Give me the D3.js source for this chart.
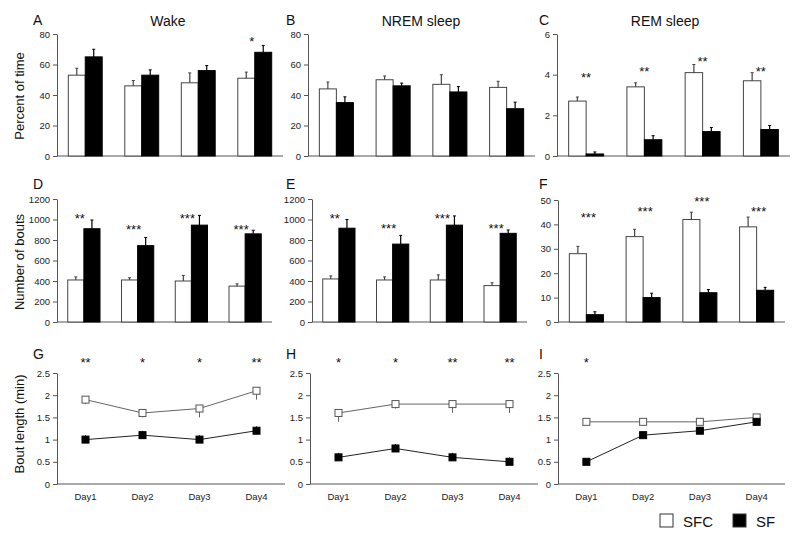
<!DOCTYPE html>
<html><head><meta charset="utf-8">
<script src="https://cdn.jsdelivr.net/npm/d3@7"></script>
<style>body{margin:0;background:#fff} svg{display:block;font-family:"Liberation Sans",Arial,sans-serif}</style>
</head><body><svg id="c" width="800" height="546"></svg>
<script>
const days = ["Day1", "Day2", "Day3", "Day4"];
const groups = ["SFC", "SF"];

// A: Wake, percent of time
const wakeSFC = [53, 46, 48, 51];
const wakeSFCErr = [4.5, 3.5, 6.5, 4];
const wakeSF = [65, 53, 56, 68];
const wakeSFErr = [5, 3.5, 3.3, 4.5];
const wakeSig = ["", "", "", "*"];
const wakeSigLevel = [0, 0, 0, 76.5];
const pctTicks = [0, 20, 40, 60, 80];

// B: NREM sleep, percent of time
const nremSFC = [44, 50, 47, 45];
const nremSFCErr = [4.5, 2.5, 6.3, 4];
const nremSF = [35, 46, 42, 31];
const nremSFErr = [3.8, 1.8, 3.5, 4.3];

// C: REM sleep, percent of time
const remSFC = [2.7, 3.4, 4.1, 3.7];
const remSFCErr = [0.2, 0.2, 0.4, 0.4];
const remSF = [0.1, 0.8, 1.2, 1.3];
const remSFErr = [0.1, 0.2, 0.2, 0.2];
const remSig = ["**", "**", "**", "**"];
const remSigLevel = [3.98, 4.28, 4.77, 4.28];
const remTicks = [0, 2, 4, 6];

// D: Wake, number of bouts
const wakeBoutsSFC = [410, 410, 400, 350];
const wakeBoutsSFCErr = [30, 22, 55, 22];
const wakeBoutsSF = [910, 745, 945, 860];
const wakeBoutsSFErr = [85, 80, 95, 35];
const wakeBoutsSig = ["**", "***", "***", "***"];
const wakeBoutsSigLevel = [1037, 930, 1037, 930];
const boutTicks = [0, 200, 400, 600, 800, 1000, 1200];

// E: NREM, number of bouts
const nremBoutsSFC = [420, 410, 410, 355];
const nremBoutsSFCErr = [30, 30, 50, 28];
const nremBoutsSF = [915, 760, 945, 865];
const nremBoutsSFErr = [85, 85, 90, 33];
const nremBoutsSig = ["**", "***", "***", "***"];
const nremBoutsSigLevel = [1037, 933, 1037, 933];

// F: REM, number of bouts
const remBoutsSFC = [28, 35, 42, 39];
const remBoutsSFCErr = [3, 3, 3, 4];
const remBoutsSF = [3, 10, 12, 13];
const remBoutsSFErr = [1.2, 1.8, 1.3, 1.2];
const remBoutsSig = ["***", "***", "***", "***"];
const remBoutsSigLevel = [43.9, 46.3, 50.4, 46.3];
const remBoutTicks = [0, 10, 20, 30, 40, 50];

// G-I: bout length (min)
const lenTicks = [0, 0.5, 1, 1.5, 2, 2.5];
const wakeLenSFC = [1.9, 1.6, 1.7, 2.1];
const wakeLenSFCErr = [0.1, 0.1, 0.2, 0.2];
const wakeLenSF = [1.0, 1.1, 1.0, 1.2];
const wakeLenSFErr = [0.1, 0.1, 0.1, 0.1];
const wakeLenSig = ["**", "*", "*", "**"];

const nremLenSFC = [1.6, 1.8, 1.8, 1.8];
const nremLenSFCErr = [0.2, 0.1, 0.2, 0.2];
const nremLenSF = [0.6, 0.8, 0.6, 0.5];
const nremLenSFErr = [0.1, 0.1, 0.1, 0.1];
const nremLenSig = ["*", "*", "**", "**"];

const remLenSFC = [1.4, 1.4, 1.4, 1.5];
const remLenSFCErr = [0.05, 0.05, 0.05, 0.03];
const remLenSF = [0.5, 1.1, 1.2, 1.4];
const remLenSFErr = [0.05, 0.05, 0.03, 0.03];
const remLenSig = ["*", "", "", ""];
const lenSigLevel = [2.8, 2.8, 2.8, 2.8];

const svg = d3.select("#c");
const AX = "#555", TXT = "#111";

function frame(p) {
  const y = d3.scaleLinear().domain([p.ticks[0], p.ticks[p.ticks.length - 1]]).range([p.bottom, p.top]);
  const x = d3.scalePoint().domain(days).range([p.left, p.right]).padding(0.5);
  const g = svg.append("g");
  const ax = g.append("g").attr("transform", `translate(${p.left},0)`)
    .call(d3.axisLeft(y).tickValues(p.ticks).tickSize(4).tickSizeOuter(0).tickPadding(3).tickFormat(d => String(d)));
  ax.selectAll("path,line").attr("stroke", AX);
  ax.selectAll("text").attr("fill", "#222").style("font-size", "9.5px").style("font-family", '"Liberation Sans",Arial,sans-serif');
  g.append("line").attr("x1", p.left).attr("x2", p.right).attr("y1", p.bottom).attr("y2", p.bottom).attr("stroke", AX);
  g.append("text").attr("x", p.letterX).attr("y", p.letterY).text(p.letter).attr("fill", TXT).style("font-size", "14px");
  if (p.title) g.append("text").attr("x", p.titleX).attr("y", p.letterY + 1).attr("text-anchor", "middle").text(p.title).attr("fill", TXT).style("font-size", "14px");
  return {g, x, y};
}

function sig(f, labels, levels, dx) {
  f.g.selectAll(".sig").data(days).enter().append("text")
    .attr("x", d => f.x(d) + (dx || 0)).attr("y", (d, i) => f.y(levels[i]) + 7)
    .attr("text-anchor", "middle").style("font-size", "13px").attr("fill", TXT)
    .text((d, i) => labels[i]);
}

function bars(p, sfc, sfcErr, sf, sfErr, sigL, sigLv) {
  const f = frame(p);
  const step = f.x.step();
  const inner = d3.scaleBand().domain(groups).range([-step * 0.3, step * 0.3]);
  const series = [{k: "SFC", v: sfc, e: sfcErr}, {k: "SF", v: sf, e: sfErr}];
  series.forEach(s => {
    const col = s.k === "SF" ? "#000" : "#444";
    f.g.selectAll(null).data(days).enter().append("rect")
      .attr("x", d => f.x(d) + inner(s.k)).attr("width", inner.bandwidth())
      .attr("y", (d, i) => f.y(s.v[i])).attr("height", (d, i) => f.y(0) - f.y(s.v[i]))
      .attr("fill", s.k === "SF" ? "#000" : "#fff").attr("stroke", col).attr("stroke-width", 1);
    const cx = d => f.x(d) + inner(s.k) + inner.bandwidth() / 2;
    f.g.selectAll(null).data(days).enter().append("line")
      .attr("x1", cx).attr("x2", cx)
      .attr("y1", (d, i) => f.y(s.v[i])).attr("y2", (d, i) => f.y(s.v[i] + s.e[i]))
      .attr("stroke", col).attr("stroke-width", 1.2);
    f.g.selectAll(null).data(days).enter().append("line")
      .attr("x1", d => cx(d) - 1.5).attr("x2", d => cx(d) + 1.5)
      .attr("y1", (d, i) => f.y(s.v[i] + s.e[i])).attr("y2", (d, i) => f.y(s.v[i] + s.e[i]))
      .attr("stroke", col).attr("stroke-width", 1);
  });
  if (sigL) sig(f, sigL, sigLv, p.sigDx);
}

function lines(p, sfc, sfcErr, sf, sfErr, sigL) {
  const f = frame(p);
  f.g.selectAll(null).data(days).enter().append("text")
    .attr("x", d => f.x(d)).attr("y", 500).attr("text-anchor", "middle")
    .style("font-size", "9.5px").attr("fill", "#222").text(d => d);
  const series = [{k: "SFC", v: sfc, e: sfcErr, dir: -1, line: "#666"}, {k: "SF", v: sf, e: sfErr, dir: 1, line: "#222"}];
  series.forEach(s => {
    const ln = d3.line().x((d, i) => f.x(days[i])).y(d => f.y(d));
    f.g.append("path").attr("d", ln(s.v)).attr("fill", "none").attr("stroke", s.line).attr("stroke-width", 1);
    f.g.selectAll(null).data(days).enter().append("line")
      .attr("x1", d => f.x(d)).attr("x2", d => f.x(d))
      .attr("y1", (d, i) => f.y(s.v[i])).attr("y2", (d, i) => f.y(s.v[i] + s.dir * s.e[i]))
      .attr("stroke", s.line).attr("stroke-width", 1);
  });
  series.forEach(s => {
    f.g.selectAll(null).data(days).enter().append("rect")
      .attr("x", d => f.x(d) - 3.5).attr("y", (d, i) => f.y(s.v[i]) - 3.5)
      .attr("width", 7).attr("height", 7)
      .attr("fill", s.k === "SF" ? "#000" : "#fff").attr("stroke", s.k === "SF" ? "#000" : "#555").attr("stroke-width", 1);
  });
  sig(f, sigL, lenSigLevel, 0);
}

bars({left: 57, right: 283, top: 34, bottom: 156, ticks: pctTicks, letter: "A", letterX: 33, letterY: 25, title: "Wake", titleX: 168, sigDx: -3},
  wakeSFC, wakeSFCErr, wakeSF, wakeSFErr, wakeSig, wakeSigLevel);
bars({left: 308, right: 535, top: 34, bottom: 156, ticks: pctTicks, letter: "B", letterX: 286, letterY: 25, title: "NREM sleep", titleX: 421},
  nremSFC, nremSFCErr, nremSF, nremSFErr, null, null);
bars({left: 557, right: 790, top: 34, bottom: 156, ticks: remTicks, letter: "C", letterX: 539, letterY: 25, title: "REM sleep", titleX: 665},
  remSFC, remSFCErr, remSF, remSFErr, remSig, remSigLevel);

bars({left: 57, right: 272, top: 199, bottom: 322, ticks: boutTicks, letter: "D", letterX: 33, letterY: 189, sigDx: -4},
  wakeBoutsSFC, wakeBoutsSFCErr, wakeBoutsSF, wakeBoutsSFErr, wakeBoutsSig, wakeBoutsSigLevel);
bars({left: 312, right: 527, top: 199, bottom: 322, ticks: boutTicks, letter: "E", letterX: 286, letterY: 189, sigDx: -4},
  nremBoutsSFC, nremBoutsSFCErr, nremBoutsSF, nremBoutsSFErr, nremBoutsSig, nremBoutsSigLevel);
bars({left: 558, right: 785, top: 200, bottom: 322, ticks: remBoutTicks, letter: "F", letterX: 539, letterY: 189, sigDx: 2},
  remBoutsSFC, remBoutsSFCErr, remBoutsSF, remBoutsSFErr, remBoutsSig, remBoutsSigLevel);

lines({left: 57, right: 285, top: 373, bottom: 484, ticks: lenTicks, letter: "G", letterX: 33, letterY: 359},
  wakeLenSFC, wakeLenSFCErr, wakeLenSF, wakeLenSFErr, wakeLenSig);
lines({left: 310, right: 538, top: 373, bottom: 484, ticks: lenTicks, letter: "H", letterX: 286, letterY: 359},
  nremLenSFC, nremLenSFCErr, nremLenSF, nremLenSFErr, nremLenSig);
lines({left: 558, right: 785, top: 373, bottom: 484, ticks: lenTicks, letter: "I", letterX: 539, letterY: 359},
  remLenSFC, remLenSFCErr, remLenSF, remLenSFErr, remLenSig);

// y-axis titles
[["Percent of time", 96], ["Number of bouts", 262], ["Bout length (min)", 424]].forEach(([t, cy]) => {
  svg.append("text").attr("transform", `translate(24,${cy}) rotate(-90)`).attr("text-anchor", "middle")
    .style("font-size", "13px").attr("fill", TXT).text(t);
});

// legend
const leg = svg.append("g");
groups.forEach((k, i) => {
  const lx = [660, 733][i];
  leg.append("rect").attr("x", lx).attr("y", 514).attr("width", 13).attr("height", 13)
    .attr("fill", k === "SF" ? "#000" : "#fff").attr("stroke", "#333").attr("stroke-width", 1);
  leg.append("text").attr("x", lx + 23).attr("y", 527).style("font-size", "15px").attr("fill", TXT).text(k);
});
</script></body></html>
